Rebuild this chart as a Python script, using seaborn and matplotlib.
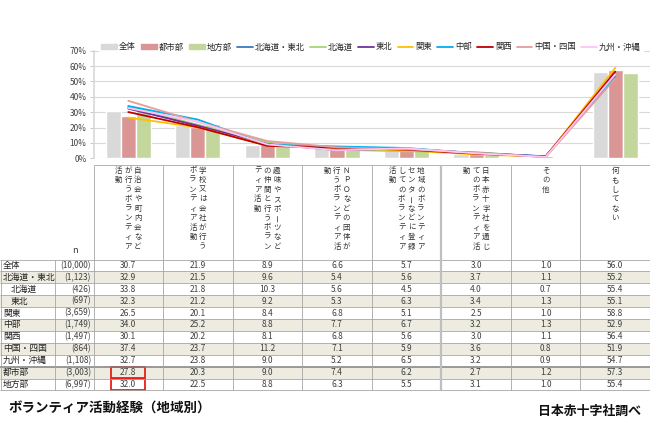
import numpy as np
import pandas as pd
import matplotlib.pyplot as plt
import matplotlib.patches as mpatches
import matplotlib.lines as mlines
import matplotlib.ticker as mticker
import seaborn as sns

# -----------------------------------------------------------------------------
# Style
# -----------------------------------------------------------------------------
sns.set_theme(style="white")
plt.rcParams["font.family"] = ["Noto Sans CJK JP", "DejaVu Sans"]

# -----------------------------------------------------------------------------
# Data
# -----------------------------------------------------------------------------
categories = [
    "自治会や町内会などが行うボランティア活動",
    "学校又は会社が行うボランティア活動",
    "趣味やスポーツなどの仲間と行うボランティア活動",
    "ＮＰＯなどの団体が行うボランティア活動",
    "地域のボランティアセンターなどに登録してのボランティア活動",
    "日本赤十字社を通じてのボランティア活動",
    "その他",
    "何もしてない",
]

bar_groups = ["全体", "都市部", "地方部"]
bar_colors = ["#D9D9D9", "#D99694", "#C3D69B"]

line_groups = ["北海道・東北", "北海道", "東北", "関東", "中部", "関西", "中国・四国", "九州・沖縄"]
line_colors = ["#3A78C0", "#A6D37A", "#7030A0", "#FFC000", "#00B0F0", "#C00000", "#E59C9C", "#FFC4F2"]

v_zentai = [30.7, 21.9, 8.9, 6.6, 5.7, 3.0, 1.0, 56.0]
v_toshi = [27.8, 20.3, 9.0, 7.4, 6.2, 2.7, 1.2, 57.3]
v_chiho = [32.0, 22.5, 8.8, 6.3, 5.5, 3.1, 1.0, 55.4]
v_hokkaido_tohoku = [32.9, 21.5, 9.6, 5.4, 5.6, 3.7, 1.1, 55.2]
v_hokkaido = [33.8, 21.8, 10.3, 5.6, 4.5, 4.0, 0.7, 55.4]
v_tohoku = [32.3, 21.2, 9.2, 5.3, 6.3, 3.4, 1.3, 55.1]
v_kanto = [26.5, 20.1, 8.4, 6.8, 5.1, 2.5, 1.0, 58.8]
v_chubu = [34.0, 25.2, 8.8, 7.7, 6.7, 3.2, 1.3, 52.9]
v_kansai = [30.1, 20.2, 8.1, 6.8, 5.6, 3.0, 1.1, 56.4]
v_chugoku_shikoku = [37.4, 23.7, 11.2, 7.1, 5.9, 3.6, 0.8, 51.9]
v_kyushu_okinawa = [32.7, 23.8, 9.0, 5.2, 6.5, 3.2, 0.9, 54.7]

row_labels = ["全体", "北海道・東北", "北海道", "東北", "関東", "中部", "関西",
              "中国・四国", "九州・沖縄", "都市部", "地方部"]
row_n = ["(10,000)", "(1,123)", "(426)", "(697)", "(3,659)", "(1,749)", "(1,497)",
         "(864)", "(1,108)", "(3,003)", "(6,997)"]

bar_values = [v_zentai, v_toshi, v_chiho]
line_values = [v_hokkaido_tohoku, v_hokkaido, v_tohoku, v_kanto, v_chubu,
               v_kansai, v_chugoku_shikoku, v_kyushu_okinawa]
table_values = [v_zentai, v_hokkaido_tohoku, v_hokkaido, v_tohoku, v_kanto, v_chubu,
                v_kansai, v_chugoku_shikoku, v_kyushu_okinawa, v_toshi, v_chiho]

df_bar = pd.DataFrame({
    "cat": categories * len(bar_groups),
    "grp": np.repeat(bar_groups, len(categories)),
    "val": np.concatenate(bar_values),
})
df_line = pd.DataFrame({
    "pos": list(range(len(categories))) * len(line_groups),
    "grp": np.repeat(line_groups, len(categories)),
    "val": np.concatenate(line_values),
})

# -----------------------------------------------------------------------------
# Layout (pixels)
# -----------------------------------------------------------------------------
W, H = 650, 425
col_x0 = 93.5
col_w = (W - col_x0) / len(categories)
y_top, y_zero = 50.7, 158.3
head_top = 165
row_top = 259.5
row_h = 11.9

fig = plt.figure(figsize=(W / 100, H / 100), dpi=100)

# -----------------------------------------------------------------------------
# Chart
# -----------------------------------------------------------------------------
ax = fig.add_axes([col_x0 / W, 1 - y_zero / H, (W - col_x0) / W, (y_zero - y_top) / H])
sns.barplot(data=df_bar, x="cat", y="val", hue="grp", hue_order=bar_groups,
            palette=bar_colors, width=0.65, gap=0, saturation=1, legend=False, ax=ax)
sns.lineplot(data=df_line, x="pos", y="val", hue="grp", hue_order=line_groups,
             palette=line_colors, lw=1.3, legend=False, ax=ax)

ax.set_xlim(-0.5, len(categories) - 0.5)
ax.set_ylim(0, 70)
ax.yaxis.set_major_locator(mticker.MultipleLocator(10))
ax.yaxis.set_major_formatter(mticker.FormatStrFormatter("%d%%"))
ax.yaxis.grid(True, color="#D9D9D9", lw=0.8)
ax.set_axisbelow(True)
ax.set(xlabel="", ylabel="")
ax.set_xticklabels([])
ax.tick_params(axis="x", bottom=False)
ax.tick_params(axis="y", left=True, length=3, width=0.6, color="#BFBFBF",
               labelsize=6, labelcolor="#404040", pad=2)
for s in ["top", "right", "bottom"]:
    ax.spines[s].set_visible(False)
ax.spines["left"].set_color("#D9D9D9")
ax.patch.set_alpha(0)

# Legend
handles = [mpatches.Patch(color=c, label=g) for g, c in zip(bar_groups, bar_colors)]
handles += [mlines.Line2D([], [], color=c, lw=1.3, label=g) for g, c in zip(line_groups, line_colors)]
fig.legend(handles=handles, loc="center", bbox_to_anchor=(371 / W, 1 - 47 / H), ncol=11,
           fontsize=6, frameon=True, facecolor="white", edgecolor="white", framealpha=1,
           handlelength=1.9, handleheight=0.45, handletextpad=0.25, columnspacing=0.6,
           borderpad=0.2, fancybox=False)

# -----------------------------------------------------------------------------
# Table
# -----------------------------------------------------------------------------
ax_t = fig.add_axes([0, 0, 1, 1], zorder=-1)
ax_t.set_xlim(0, W)
ax_t.set_ylim(H, 0)
ax_t.axis("off")

n_rows = len(row_labels)
y_bot = row_top + n_rows * row_h
shaded = [1, 3, 5, 7, 9]
for i in shaded:
    ax_t.add_patch(mpatches.Rectangle((0, row_top + i * row_h), W, row_h,
                                      facecolor="#EEECE1", edgecolor="none"))

line_c = "#A6A6A6"
for i in range(n_rows + 1):
    y = row_top + i * row_h
    if i == 9:
        ax_t.hlines(y, 0, W, color="#808080", lw=1.1)
    else:
        ax_t.hlines(y, 0, W, color=line_c, lw=0.6)
ax_t.hlines(head_top, col_x0, W, color=line_c, lw=0.6)
ax_t.vlines([0.5, 55], row_top, y_bot, color=line_c, lw=0.6)
for j in range(len(categories) + 1):
    x = min(col_x0 + j * col_w, W - 0.5)
    if j == 5:
        ax_t.vlines(x, head_top, y_bot, color="#BFBFBF", lw=1.6)
    else:
        ax_t.vlines(x, head_top, y_bot, color=line_c, lw=0.6)

# vertical header text
chunk = 9
for j, lab in enumerate(categories):
    cols = [lab[k:k + chunk] for k in range(0, len(lab), chunk)]
    xc = col_x0 + (j + 0.5) * col_w
    for c, txt in enumerate(cols):
        x = xc + ((len(cols) - 1) / 2 - c) * 9.6
        for r, ch in enumerate(txt):
            ax_t.text(x, 170.5 + r * 9.5, ch, ha="center", va="center", fontsize=5.4,
                      color="#333333", rotation=90 if ch == "ー" else 0)

ax_t.text(75, 250, "n", ha="center", va="center", fontsize=6.5, color="#333333")

for i, (lab, n, vals) in enumerate(zip(row_labels, row_n, table_values)):
    yc = row_top + (i + 0.5) * row_h
    indent = 11 if lab in ("北海道", "東北") else 3
    ax_t.text(indent, yc, lab, ha="left", va="center", fontsize=6.3, color="#222222")
    ax_t.text(91, yc, n, ha="right", va="center", fontsize=6, color="#404040")
    for j, v in enumerate(vals):
        ax_t.text(col_x0 + (j + 0.5) * col_w, yc, f"{v:.1f}", ha="center", va="center",
                  fontsize=6, color="#404040")

# highlight boxes
for i in [9, 10]:
    ax_t.add_patch(mpatches.Rectangle((col_x0 + 0.5 * col_w - 17, row_top + i * row_h + 0.4),
                                      34, row_h - 0.8, facecolor="none",
                                      edgecolor="#E3211C", lw=1.3))

# Titles
fig.text(8 / W, 1 - 409 / H, "ボランティア活動経験（地域別）", ha="left", va="center",
         fontsize=9.7, fontweight="bold", color="#111111")
fig.text(641 / W, 1 - 411 / H, "日本赤十字社調べ", ha="right", va="center",
         fontsize=9.3, fontweight="bold", color="#111111")

fig.savefig("out.png", dpi=100)
